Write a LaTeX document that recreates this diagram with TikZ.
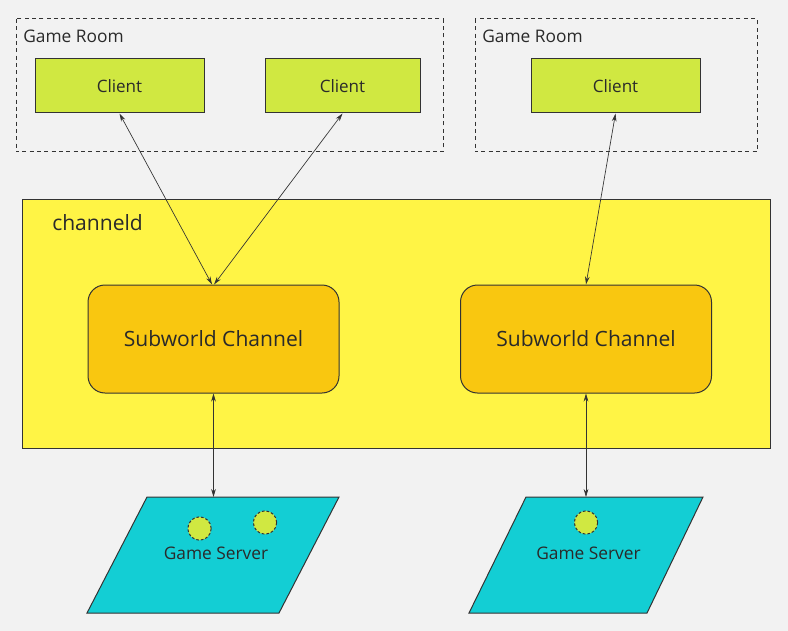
\documentclass[tikz,border=0pt]{standalone}
\usepackage{fontspec}
\setmainfont{Open Sans}
\usetikzlibrary{arrows.meta}
\definecolor{bgc}{HTML}{F2F2F2}
\definecolor{clientc}{HTML}{D0E841}
\definecolor{chanc}{HTML}{FFF445}
\definecolor{subc}{HTML}{F9C710}
\definecolor{gsc}{HTML}{13CED4}
\definecolor{linec}{HTML}{333333}
\definecolor{txtc}{HTML}{2A2A2A}
\tikzset{
  clientbox/.style={draw=linec, line width=0.75pt, fill=clientc, minimum height=40.5pt, inner sep=0pt, text=txtc, font=\fontsize{12.8}{15}\selectfont},
  subbox/.style={draw=linec, line width=0.75pt, fill=subc, rounded corners=12.75pt, minimum width=188.25pt, minimum height=81pt, inner sep=0pt, text=txtc, font=\fontsize{15.8}{19}\selectfont},
  roombox/.style={draw=linec, line width=0.75pt, dash pattern=on 3pt off 2.5pt},
  gsshape/.style={draw=linec, line width=0.75pt, fill=gsc},
  dot/.style={draw=linec, line width=0.75pt, dash pattern=on 2pt off 1.5pt, fill=clientc, circle, minimum size=17.5pt, inner sep=0pt},
  lbl/.style={text=txtc, inner sep=0pt},
  link/.style={draw=linec, line width=0.5pt, {Stealth[length=6pt,width=3.5pt]}-{Stealth[length=6pt,width=3.5pt]}},
}
\begin{document}
\begin{tikzpicture}[x=0.75pt,y=-0.75pt]
\fill[bgc] (0,0) rectangle (788,631);
\useasboundingbox (0,0) rectangle (788,631);
% game rooms
\draw[roombox] (16,19) rectangle (443,152);
\draw[roombox] (475,19) rectangle (757,152);
\node[lbl, anchor=west, font=\fontsize{13}{15}\selectfont] (gr1) at (23,36) {Game Room};
\node[lbl, anchor=west, font=\fontsize{13}{15}\selectfont] (gr2) at (482,36) {Game Room};
% clients
\node[clientbox, minimum width=126.75pt] (c1) at (119.5,86) {Client};
\node[clientbox, minimum width=116.25pt] (c2) at (342.5,86) {Client};
\node[clientbox, minimum width=126.75pt] (c3) at (615.5,86) {Client};
% channel
\draw[draw=linec, line width=0.75pt, fill=chanc] (22,199) rectangle (770,448);
\node[lbl, anchor=west, font=\fontsize{15.8}{19}\selectfont] (chid) at (52,223) {channeld};
% subworld channels
\node[subbox] (s1) at (213.5,339) {\raisebox{1.5pt}{Subworld Channel}};
\node[subbox] (s2) at (586,339) {\raisebox{1.5pt}{Subworld Channel}};
% game servers
\draw[gsshape] (147,497) -- (339,497) -- (279,613) -- (87,613) -- cycle;
\draw[gsshape] (526,497) -- (703,497) -- (647,613) -- (469,613) -- cycle;
\coordinate (g1) at (213.5,497);
\coordinate (g2) at (586,497);
\node[dot] (d1) at (199.5,528.5) {};
\node[dot] (d2) at (265,522.5) {};
\node[dot] (d3) at (586,522.5) {};
\node[lbl, font=\fontsize{13}{15}\selectfont] (gs1) at (216,553) {Game Server};
\node[lbl, font=\fontsize{13}{15}\selectfont] (gs2) at (588.5,553) {Game Server};
% connectors
\draw[link] (c1.south) -- ([xshift=-1.1pt]s1.north);
\draw[link] (c2.south) -- ([xshift=0.4pt]s1.north);
\draw[link] (c3.south) -- (s2.north);
\draw[link] (s1.south) -- (g1);
\draw[link] (s2.south) -- (g2);
\end{tikzpicture}
\end{document}
